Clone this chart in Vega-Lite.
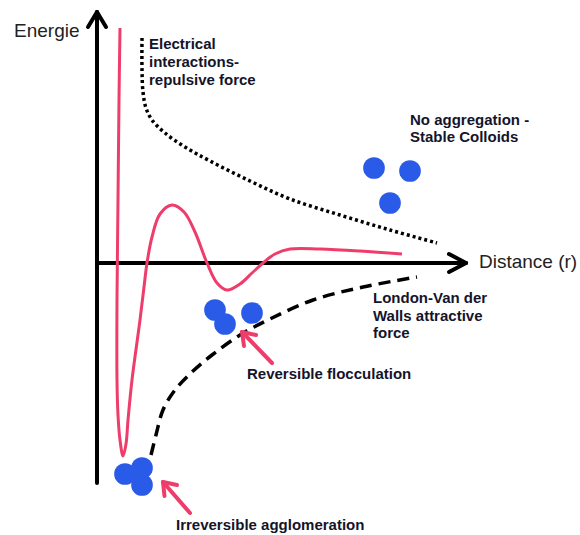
{
  "$schema": "https://vega.github.io/schema/vega-lite/v6.json",
  "width": 580,
  "height": 535,
  "padding": 0,
  "autosize": {"type": "fit", "contains": "padding"},
  "background": "white",
  "config": {"view": {"stroke": null}},
  "encoding": {
    "x": {"field": "x", "type": "quantitative", "scale": {"domain": [-97, 483], "nice": false, "zero": false}, "axis": null},
    "y": {"field": "y", "type": "quantitative", "scale": {"domain": [-272, 263], "nice": false, "zero": false}, "axis": null}
  },
  "layer": [
    {
      "data": {"values": [
        {"i": 0, "x": 45, "y": 225},
        {"i": 1, "x": 45, "y": 193},
        {"i": 2, "x": 46, "y": 171},
        {"i": 3, "x": 49, "y": 155},
        {"i": 4, "x": 55, "y": 143},
        {"i": 5, "x": 68, "y": 130},
        {"i": 6, "x": 88, "y": 116},
        {"i": 7, "x": 113, "y": 102},
        {"i": 8, "x": 153, "y": 82},
        {"i": 9, "x": 193, "y": 64},
        {"i": 10, "x": 243, "y": 48},
        {"i": 11, "x": 293, "y": 33},
        {"i": 12, "x": 340, "y": 20}
      ]},
      "mark": {"type": "line", "color": "#000000", "strokeWidth": 3.5, "strokeDash": [3, 3], "interpolate": "catmull-rom"},
      "encoding": {"order": {"field": "i", "type": "quantitative"}}
    },
    {
      "data": {"values": [
        {"i": 0, "x": 54, "y": -192},
        {"i": 1, "x": 59, "y": -172},
        {"i": 2, "x": 66, "y": -147},
        {"i": 3, "x": 78, "y": -127},
        {"i": 4, "x": 95, "y": -109},
        {"i": 5, "x": 115, "y": -92},
        {"i": 6, "x": 143, "y": -72},
        {"i": 7, "x": 173, "y": -56},
        {"i": 8, "x": 216, "y": -37},
        {"i": 9, "x": 266, "y": -24},
        {"i": 10, "x": 320, "y": -14}
      ]},
      "mark": {"type": "line", "color": "#000000", "strokeWidth": 3.5, "strokeDash": [12, 7], "interpolate": "catmull-rom"},
      "encoding": {"order": {"field": "i", "type": "quantitative"}}
    },
    {
      "data": {"values": [
        {"x": 0, "y": -220, "x2": 0, "y2": 251},
        {"x": 0, "y": 251, "x2": -9, "y2": 236},
        {"x": 0, "y": 251, "x2": 9, "y2": 236},
        {"x": 0, "y": 0, "x2": 369, "y2": 0},
        {"x": 369, "y": 0, "x2": 352, "y2": 9},
        {"x": 369, "y": 0, "x2": 352, "y2": -9}
      ]},
      "mark": {"type": "rule", "color": "#000000", "strokeWidth": 4, "strokeCap": "round"},
      "encoding": {"x2": {"field": "x2"}, "y2": {"field": "y2"}}
    },
    {
      "data": {"values": [
        {"i": 0, "x": 23, "y": 235},
        {"i": 1, "x": 22, "y": 163},
        {"i": 2, "x": 21, "y": 63},
        {"i": 3, "x": 20, "y": -37},
        {"i": 4, "x": 20, "y": -117},
        {"i": 5, "x": 21, "y": -152},
        {"i": 6, "x": 23, "y": -177},
        {"i": 7, "x": 26, "y": -193},
        {"i": 8, "x": 29, "y": -181},
        {"i": 9, "x": 31, "y": -157},
        {"i": 10, "x": 35, "y": -117},
        {"i": 11, "x": 43, "y": -57},
        {"i": 12, "x": 47, "y": -24},
        {"i": 13, "x": 50, "y": 0},
        {"i": 14, "x": 55, "y": 26},
        {"i": 15, "x": 63, "y": 49},
        {"i": 16, "x": 75, "y": 58},
        {"i": 17, "x": 87, "y": 51},
        {"i": 18, "x": 98, "y": 31},
        {"i": 19, "x": 110, "y": 0},
        {"i": 20, "x": 120, "y": -20},
        {"i": 21, "x": 130, "y": -27},
        {"i": 22, "x": 143, "y": -21},
        {"i": 23, "x": 155, "y": -10},
        {"i": 24, "x": 166, "y": 0},
        {"i": 25, "x": 178, "y": 9},
        {"i": 26, "x": 193, "y": 14},
        {"i": 27, "x": 223, "y": 14},
        {"i": 28, "x": 263, "y": 12},
        {"i": 29, "x": 305, "y": 9}
      ]},
      "mark": {"type": "line", "color": "#ee3d6b", "strokeWidth": 3, "interpolate": "catmull-rom"},
      "encoding": {"order": {"field": "i", "type": "quantitative"}}
    },
    {
      "data": {"values": [
        {"x": 175, "y": -100, "x2": 145, "y2": -69},
        {"x": 145, "y": -69, "x2": 147, "y2": -83},
        {"x": 145, "y": -69, "x2": 159, "y2": -72},
        {"x": 93, "y": -250, "x2": 66, "y2": -219},
        {"x": 66, "y": -219, "x2": 67.5, "y2": -233},
        {"x": 66, "y": -219, "x2": 80, "y2": -222}
      ]},
      "mark": {"type": "rule", "color": "#ee3d6b", "strokeWidth": 4, "strokeCap": "round"},
      "encoding": {"x2": {"field": "x2"}, "y2": {"field": "y2"}}
    },
    {
      "data": {"values": [
        {"x": 277, "y": 95},
        {"x": 313, "y": 92},
        {"x": 293, "y": 60},
        {"x": 118, "y": -47},
        {"x": 128, "y": -61},
        {"x": 155, "y": -50},
        {"x": 28, "y": -211},
        {"x": 45, "y": -205},
        {"x": 45, "y": -222}
      ]},
      "mark": {"type": "point", "shape": "circle", "filled": true, "opacity": 1, "color": "#2a5be8", "size": 470, "strokeWidth": 0}
    },
    {
      "data": {"values": [
        {"label": "Energie", "x": -83, "y": 226},
        {"label": "Distance (r)", "x": 382, "y": -5}
      ]},
      "mark": {"type": "text", "align": "left", "baseline": "alphabetic", "font": "Liberation Sans", "fontSize": 19, "color": "#222222"},
      "encoding": {"text": {"field": "label"}}
    },
    {
      "data": {"values": [
        {"label": "Electrical", "x": 52, "y": 214},
        {"label": "interactions-", "x": 52, "y": 196},
        {"label": "repulsive force", "x": 52, "y": 178},
        {"label": "No aggregation -", "x": 313, "y": 138},
        {"label": "Stable Colloids", "x": 313, "y": 121},
        {"label": "London-Van der", "x": 276, "y": -40},
        {"label": "Walls attractive", "x": 276, "y": -58},
        {"label": "force", "x": 276, "y": -75},
        {"label": "Reversible flocculation", "x": 150, "y": -116},
        {"label": "Irreversible agglomeration", "x": 79, "y": -267}
      ]},
      "mark": {"type": "text", "align": "left", "baseline": "alphabetic", "font": "Liberation Sans", "fontSize": 15, "fontWeight": "bold", "color": "#14142a"},
      "encoding": {"text": {"field": "label"}}
    }
  ]
}
